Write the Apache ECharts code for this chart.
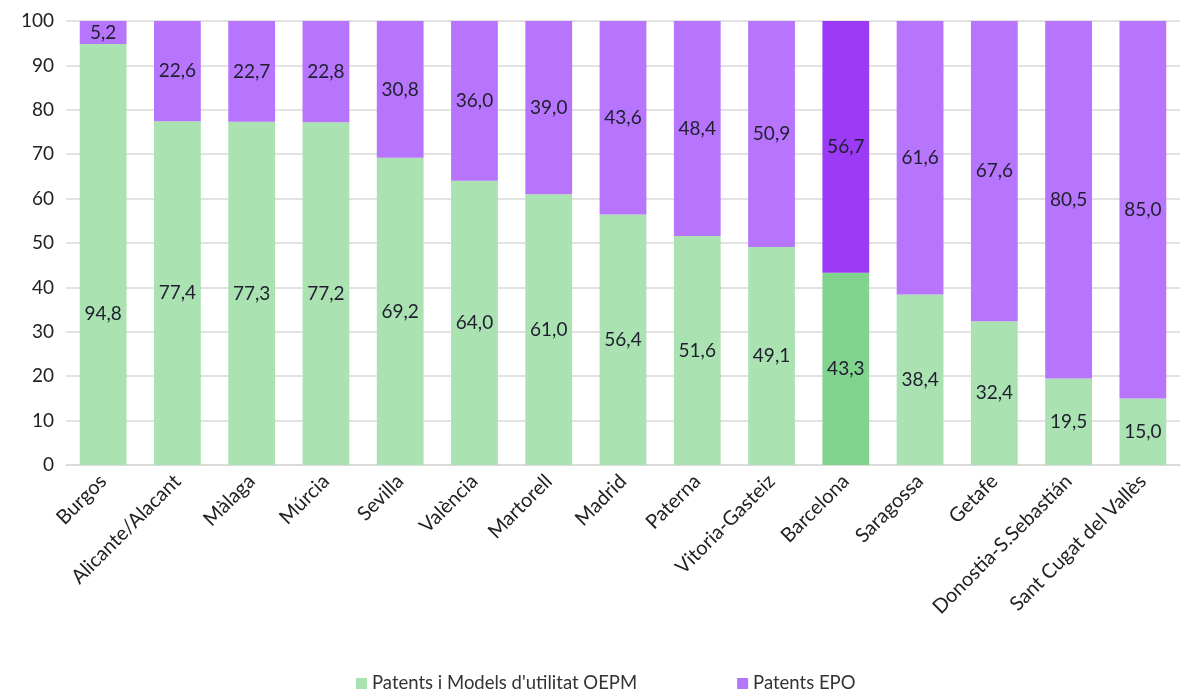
<!DOCTYPE html>
<html><head><meta charset="utf-8">
<script src="https://cdn.jsdelivr.net/npm/echarts@6/dist/echarts.min.js"></script>
<style>html,body{margin:0;padding:0;background:#fff}#c{width:1189px;height:699px}</style>
</head><body><div id="c"></div>
<script>
const categories = ["Burgos","Alicante/Alacant","Màlaga","Múrcia","Sevilla","València","Martorell","Madrid","Paterna","Vitoria-Gasteiz","Barcelona","Saragossa","Getafe","Donostia-S.Sebastián","Sant Cugat del Vallès"];
const oepm = [94.8,77.4,77.3,77.2,69.2,64.0,61.0,56.4,51.6,49.1,43.3,38.4,32.4,19.5,15.0];
const epo  = [5.2,22.6,22.7,22.8,30.8,36.0,39.0,43.6,48.4,50.9,56.7,61.6,67.6,80.5,85.0];
const yTicks = [0,10,20,30,40,50,60,70,80,90,100];
const highlight = "Barcelona";

const FONT = "Lato";
const fmt = v => v.toFixed(1).replace('.', ',');

function mk(vals, hcolor, isGreen){
  return vals.map((v,i)=>{
    const o = {value:v};
    if (categories[i]===highlight) o.itemStyle = {color:hcolor};
    if (isGreen && i===0) o.label = {offset:[0,59]};
    return o;
  });
}

const chart = echarts.init(document.getElementById('c'));
chart.setOption({
  animation:false,
  textStyle:{fontFamily:FONT},
  grid:{left:66,right:9,top:21,bottom:234,containLabel:false},
  legend:{
    bottom:1,left:351,itemWidth:11,itemHeight:11,itemGap:100,icon:'rect',
    textStyle:{fontFamily:FONT,fontSize:18.5,color:'#333'},
    data:["Patents i Models d'utilitat OEPM","Patents EPO"]
  },
  xAxis:{
    type:'category',data:categories,
    axisTick:{show:false},
    axisLine:{lineStyle:{color:'#d9d9d9',width:1.5}},
    axisLabel:{rotate:45,interval:0,fontFamily:FONT,fontSize:20,color:'#222',margin:13}
  },
  yAxis:{
    type:'value',min:0,max:100,interval:10,
    axisLine:{show:false},axisTick:{show:false},
    splitLine:{lineStyle:{color:'#d9d9d9',width:1.5}},
    axisLabel:{fontFamily:FONT,fontSize:19,color:'#222',margin:12,
      formatter:v=>yTicks.includes(v)?String(v):''}
  },
  series:[
    {name:"Patents i Models d'utilitat OEPM",type:'bar',stack:'s',barWidth:'63%',
     itemStyle:{color:'#abe2b1'},
     label:{show:true,position:'inside',fontFamily:FONT,fontSize:19,color:'#1e1e2e',formatter:p=>fmt(p.value)},
     data:mk(oepm,'#81d48e',true)},
    {name:"Patents EPO",type:'bar',stack:'s',barWidth:'63%',
     itemStyle:{color:'#b775fd'},
     label:{show:true,position:'inside',fontFamily:FONT,fontSize:19,color:'#1e1e2e',formatter:p=>fmt(p.value)},
     data:mk(epo,'#9b3bf5',false)}
  ]
});
</script></body></html>
